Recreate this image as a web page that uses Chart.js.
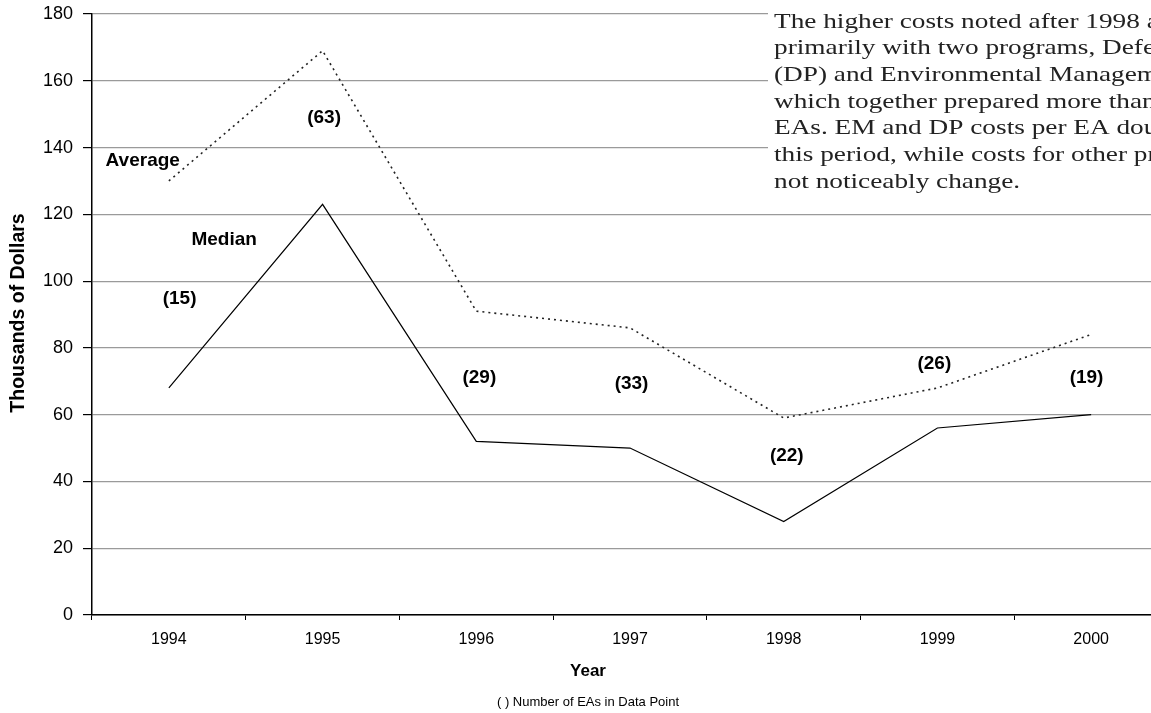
<!DOCTYPE html>
<html>
<head>
<meta charset="utf-8">
<script src="https://cdn.jsdelivr.net/npm/chart.js@4/dist/chart.umd.min.js"></script>
<style>
  html, body { margin: 0; padding: 0; background: #fff; overflow: hidden; }
  canvas { display: block; }
</style>
</head>
<body>
<canvas id="grafica" width="1200" height="713"></canvas>
<script>
const years = ["1994", "1995", "1996", "1997", "1998", "1999", "2000"];
const promedio = [130, 169, 91, 86, 59, 68, 84];
const mediana = [68, 123, 52, 50, 28, 56, 60];
const conteos = ["(15)", "(63)", "(29)", "(33)", "(22)", "(26)", "(19)"];
// where each count label sits, in chart units (category index, thousands)
const conteoX = [0.07, 1.01, 2.02, 3.01, 4.02, 4.98, 5.97];
const conteoY = [94.6, 148.8, 71, 69.2, 47.6, 75.2, 71];
const serieNombres = ["Average", "Median"];
const serieX = [-0.17, 0.36];
const serieY = [136, 112.3];

const nota = [
    "The higher costs noted after 1998 are associated",
    "primarily with two programs, Defense Programs",
    "(DP) and Environmental Management (EM),",
    "which together prepared more than half the",
    "EAs. EM and DP costs per EA doubled over",
    "this period, while costs for other programs did",
    "not noticeably change."
];

const etiquetas = {
    id: "etiquetas",
    afterDatasetsDraw(chart) {
        const ctx = chart.ctx;
        const x = chart.scales.x, y = chart.scales.y;
        ctx.save();
        ctx.fillStyle = "#000";
        ctx.textAlign = "center";
        ctx.textBaseline = "middle";
        ctx.font = "bold 19px 'Liberation Sans', Arial, sans-serif";
        for (let i = 0; i < conteos.length; i++) {
            ctx.fillText(conteos[i], x.getPixelForValue(conteoX[i]), y.getPixelForValue(conteoY[i]));
        }
        for (let i = 0; i < serieNombres.length; i++) {
            ctx.fillText(serieNombres[i], x.getPixelForValue(serieX[i]), y.getPixelForValue(serieY[i]));
        }
        ctx.restore();
    },
    afterDraw(chart) {
        const ctx = chart.ctx;
        ctx.save();
        // text box over the top right corner
        ctx.fillStyle = "#fff";
        ctx.fillRect(768, 0, 432, 172);
        ctx.save();
        ctx.translate(774, 0);
        ctx.scale(1.24, 1);
        ctx.fillStyle = "#222";
        ctx.textAlign = "left";
        ctx.textBaseline = "alphabetic";
        ctx.font = "22px 'Liberation Serif', 'Times New Roman', serif";
        nota.forEach((linea, i) => ctx.fillText(linea, 0, 27.5 + i * 26.7));
        ctx.restore();

        ctx.fillStyle = "#000";
        ctx.textAlign = "center";
        ctx.textBaseline = "middle";
        ctx.font = "bold 17px 'Liberation Sans', Arial, sans-serif";
        ctx.fillText("Year", 588, 671);
        ctx.font = "13px 'Liberation Sans', Arial, sans-serif";
        ctx.fillText("( ) Number of EAs in Data Point", 588, 702);

        ctx.translate(19, 313);
        ctx.rotate(-Math.PI / 2);
        ctx.font = "bold 19.5px 'Liberation Sans', Arial, sans-serif";
        ctx.fillText("Thousands of Dollars", 0, 0);
        ctx.restore();
    }
};

const data = {
    labels: years,
    datasets: [{
        label: "Average",
        data: promedio,
        borderColor: "#222",
        borderWidth: 1.6,
        borderDash: [2, 4],
        pointRadius: 0,
        tension: 0
    }, {
        label: "Median",
        data: mediana,
        borderColor: "#000",
        borderWidth: 1.2,
        pointRadius: 0,
        tension: 0
    }]
};

const config = {
    type: "line",
    data: data,
    plugins: [etiquetas],
    options: {
        responsive: false,
        animation: false,
        devicePixelRatio: 1,
        layout: { padding: { top: 14, right: 32, left: 0, bottom: 0 } },
        plugins: {
            legend: { display: false },
            tooltip: { enabled: false }
        },
        scales: {
            x: {
                offset: true,
                grid: {
                    offset: true,
                    drawOnChartArea: false,
                    tickLength: 5,
                    tickColor: "#000"
                },
                border: { color: "#000", width: 1.5 },
                ticks: {
                    color: "#000",
                    padding: 10,
                    font: { family: "'Liberation Sans', Arial, sans-serif", size: 16 }
                },
                afterFit: function (scale) {
                    scale.height = 98;
                    scale.paddingLeft = 0;
                    scale.paddingRight = 0;
                }
            },
            y: {
                min: 0,
                max: 180,
                ticks: {
                    stepSize: 20,
                    color: "#000",
                    padding: 10,
                    font: { family: "'Liberation Sans', Arial, sans-serif", size: 18 }
                },
                grid: {
                    color: "#9a9a9a",
                    lineWidth: 1.2,
                    tickLength: 9,
                    tickColor: "#000"
                },
                border: { color: "#000", width: 1.5 },
                afterFit: function (scale) {
                    scale.width = 92;
                    scale.paddingTop = 0;
                    scale.paddingBottom = 0;
                }
            }
        }
    }
};

const ctx = document.querySelector("#grafica");
const grafica = new Chart(ctx, config);
</script>
</body>
</html>
